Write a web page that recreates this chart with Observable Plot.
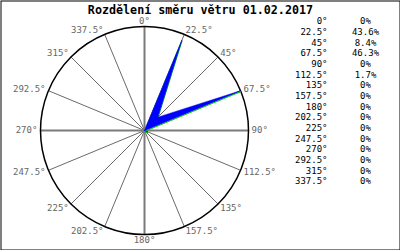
<!DOCTYPE html>
<html><head><meta charset="utf-8">
<script src="https://cdn.jsdelivr.net/npm/d3@7"></script>
<script src="https://cdn.jsdelivr.net/npm/@observablehq/plot@0.6"></script>
<style>body{margin:0;background:#fff} svg text{font-family:'DejaVu Sans Mono','Liberation Mono',monospace}</style>
</head><body><div id="chart"></div>
<script>
const title = "Rozdělení směru větru 01.02.2017";
const directions = [0,22.5,45,67.5,90,112.5,135,157.5,180,202.5,225,247.5,270,292.5,315,337.5];
const dirLabels = ["0°","22.5°","45°","67.5°","90°","112.5°","135°","157.5°","180°","202.5°","225°","247.5°","270°","292.5°","315°","337.5°"];
const percents = [0,43.6,8.4,46.3,0,1.7,0,0,0,0,0,0,0,0,0,0];

const rad = d => d * Math.PI / 180;
const maxP = d3.max(percents);
const rose = directions.map((d, i) => ({x: Math.sin(rad(d)) * percents[i] / maxP, y: Math.cos(rad(d)) * percents[i] / maxP}));
const spokes = directions.map((d, i) => ({x: Math.sin(rad(d)), y: Math.cos(rad(d)), label: dirLabels[i], cardinal: d % 90 === 0,
  lx: Math.sin(rad(d)) * 1.03, ly: Math.cos(rad(d)) * 1.05, s: Math.sin(rad(d))}));
const rows = directions.map((d, i) => ({label: dirLabels[i], pct: percents[i] === 0 ? "0%" : percents[i].toFixed(1) + "%", i}));

const rowY = i => 1.048 - 0.1026 * i;
const mono = "DejaVu Sans Mono";

const chart = Plot.plot({
  width: 400, height: 250, margin: 0,
  x: {domain: [-1, 1], range: [40, 248], axis: null},
  y: {domain: [-1, 1], range: [234, 26], axis: null},
  style: "background:#fff;font-family:'DejaVu Sans Mono',monospace",
  marks: [
    Plot.frame({stroke: "#000", inset: 0.5}),
    Plot.link(spokes.filter(d => !d.cardinal), {x1: 0, y1: 0, x2: "x", y2: "y", stroke: "#6a6a6a", strokeWidth: 1}),
    Plot.link(spokes.filter(d => d.cardinal), {x1: 0, y1: 0, x2: "x", y2: "y", stroke: "#7a7a7a", strokeWidth: 2}),
    Plot.dot([0], {x: () => 0, y: () => 0, r: 104, stroke: "#000", strokeWidth: 1.5, fill: "none"}),
    Plot.line(rose, {x: "x", y: "y", curve: "linear-closed", stroke: "#00cc00", strokeWidth: 1, dy: 1, fill: "none"}),
    Plot.line(rose, {x: "x", y: "y", curve: "linear-closed", fill: "#0000ff", stroke: "#0000ff", strokeWidth: 0.5}),
    Plot.text(spokes.filter(d => d.s > 0.01), {x: "lx", y: "ly", text: "label", textAnchor: "start", fill: "#666", fontSize: 9, fontFamily: mono}),
    Plot.text(spokes.filter(d => d.s < -0.01), {x: "lx", y: "ly", text: "label", textAnchor: "end", fill: "#666", fontSize: 9, fontFamily: mono}),
    Plot.text(spokes.filter(d => Math.abs(d.s) <= 0.01), {x: "lx", y: "ly", text: "label", textAnchor: "middle", fill: "#666", fontSize: 9, fontFamily: mono}),
    Plot.text([title], {x: () => 0.538, y: () => 1.16, text: d => d, fontSize: 11.7, fontWeight: "bold", fill: "#000", fontFamily: mono}),
    Plot.text(rows, {x: () => 1.76, y: d => rowY(d.i), text: "label", textAnchor: "end", fontSize: 9, fill: "#000", fontFamily: mono}),
    Plot.text(rows, {x: () => 2.125, y: d => rowY(d.i), text: "pct", textAnchor: "middle", fontSize: 9, fill: "#000", fontFamily: mono})
  ]
});
document.getElementById("chart").append(chart);
</script>
</body></html>
